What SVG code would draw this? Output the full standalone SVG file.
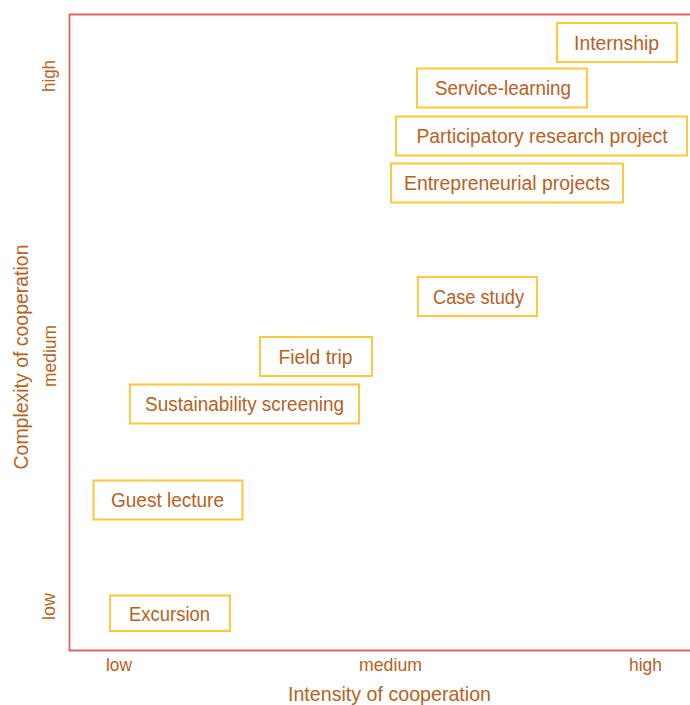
<svg xmlns="http://www.w3.org/2000/svg" width="690" height="705" viewBox="0 0 690 705">
<style>
.box{fill:#ffffff;stroke:#FFC83A;stroke-width:2}
.t{font-family:"Liberation Sans",Arial,sans-serif;font-size:20px;fill:#B9611D;text-anchor:middle}
.a{font-family:"Liberation Sans",Arial,sans-serif;font-size:19px;fill:#B9611D;text-anchor:middle}
.frame{fill:none;stroke:#DD6464;stroke-width:1.8}
</style>
<rect width="690" height="705" fill="#ffffff"/>
<g id="axes">
<path class="frame" d="M690,14.5 H69.5 V650.5 H690"/>
<text class="a" x="119" y="671" textLength="26" lengthAdjust="spacingAndGlyphs">low</text>
<text class="a" x="390.5" y="671" textLength="63" lengthAdjust="spacingAndGlyphs">medium</text>
<text class="a" x="645.5" y="671" textLength="33" lengthAdjust="spacingAndGlyphs">high</text>
<text class="a" x="389.5" y="701" style="font-size:21px" textLength="203" lengthAdjust="spacingAndGlyphs">Intensity of cooperation</text>
<text class="a" transform="translate(54.5,76) rotate(-90)" textLength="32" lengthAdjust="spacingAndGlyphs">high</text>
<text class="a" transform="translate(55.5,356) rotate(-90)" textLength="62" lengthAdjust="spacingAndGlyphs">medium</text>
<text class="a" transform="translate(27.5,357) rotate(-90)" style="font-size:21px" textLength="225" lengthAdjust="spacingAndGlyphs">Complexity of cooperation</text>
<text class="a" transform="translate(54.5,606.5) rotate(-90)" textLength="27" lengthAdjust="spacingAndGlyphs">low</text>
</g>
<g id="connectors"></g>
<g id="internship"><rect class="box" x="557" y="23" width="120" height="39"/><text class="t" x="616.5" y="49.5" textLength="85" lengthAdjust="spacingAndGlyphs">Internship</text></g>
<g id="service-learning"><rect class="box" x="417" y="68.5" width="170" height="39"/><text class="t" x="503" y="95" textLength="136" lengthAdjust="spacingAndGlyphs">Service-learning</text></g>
<g id="participatory"><rect class="box" x="396" y="116.5" width="291" height="39"/><text class="t" x="542" y="143" textLength="251" lengthAdjust="spacingAndGlyphs">Participatory research project</text></g>
<g id="entrepreneurial"><rect class="box" x="391" y="163.5" width="232" height="39"/><text class="t" x="507" y="190" textLength="206" lengthAdjust="spacingAndGlyphs">Entrepreneurial projects</text></g>
<g id="case-study"><rect class="box" x="418" y="277" width="119" height="39"/><text class="t" x="478.5" y="303.5" textLength="91" lengthAdjust="spacingAndGlyphs">Case study</text></g>
<g id="field-trip"><rect class="box" x="260" y="337" width="112" height="39"/><text class="t" x="315.5" y="363.5" textLength="74" lengthAdjust="spacingAndGlyphs">Field trip</text></g>
<g id="sustainability"><rect class="box" x="130" y="384.5" width="229" height="39"/><text class="t" x="244.5" y="411" textLength="199" lengthAdjust="spacingAndGlyphs">Sustainability screening</text></g>
<g id="guest-lecture"><rect class="box" x="93.5" y="480.5" width="149" height="39"/><text class="t" x="167.5" y="507" textLength="113" lengthAdjust="spacingAndGlyphs">Guest lecture</text></g>
<g id="excursion"><rect class="box" x="110" y="595.5" width="120" height="35.5"/><text class="t" x="169.5" y="620.5" textLength="81" lengthAdjust="spacingAndGlyphs">Excursion</text></g>
</svg>
